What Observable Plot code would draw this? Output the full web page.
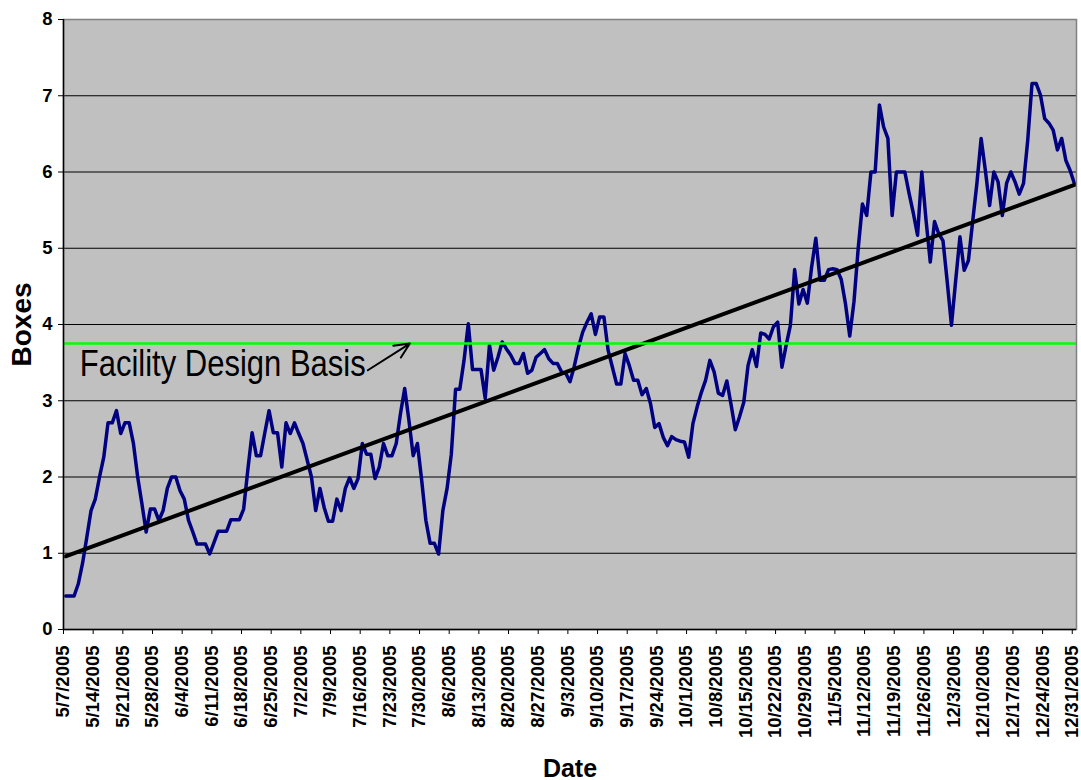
<!DOCTYPE html>
<html>
<head>
<meta charset="utf-8">
<script src="https://cdn.jsdelivr.net/npm/d3@7"></script>
<script src="https://cdn.jsdelivr.net/npm/@observablehq/plot@0.6"></script>
<style>
  html, body { margin: 0; padding: 0; background: #fff; }
  #chart svg { display: block; }
</style>
</head>
<body>
<div id="chart"></div>
<script>
// ---------- data ----------
const seriesStart = "5/7/2005";   // first daily value
const axisEnd = "1/1/2006";       // end of the date axis
// daily "Boxes" values, 5/7/2005 .. 12/31/2005
const boxes = [
  0.44, 0.44, 0.44, 0.6, 0.87, 1.21, 1.56, 1.71, 2.0, 2.26,
  2.71, 2.71, 2.87, 2.57, 2.71, 2.71, 2.44, 2.0, 1.65, 1.28,
  1.58, 1.58, 1.43, 1.56, 1.85, 2.0, 2.0, 1.82, 1.71, 1.43,
  1.28, 1.12, 1.12, 1.12, 0.99, 1.14, 1.29, 1.29, 1.29, 1.44,
  1.44, 1.44, 1.58, 2.1, 2.58, 2.28, 2.28, 2.58, 2.87, 2.58,
  2.58, 2.13, 2.71, 2.57, 2.71, 2.57, 2.44, 2.22, 2.0, 1.56,
  1.85, 1.6, 1.42, 1.42, 1.71, 1.56, 1.85, 1.99, 1.85, 1.98,
  2.44, 2.3, 2.3, 1.98, 2.13, 2.44, 2.28, 2.28, 2.44, 2.83,
  3.16, 2.74, 2.28, 2.44, 1.96, 1.43, 1.13, 1.13, 0.99, 1.56,
  1.85, 2.3, 3.15, 3.15, 3.53, 4.01, 3.41, 3.41, 3.41, 3.03,
  3.73, 3.4, 3.57, 3.77, 3.68, 3.6, 3.49, 3.49, 3.62, 3.36,
  3.4, 3.57, 3.62, 3.67, 3.55, 3.49, 3.49, 3.38, 3.36, 3.25,
  3.45, 3.7, 3.9, 4.03, 4.14, 3.87, 4.1, 4.1, 3.66, 3.44,
  3.22, 3.22, 3.62, 3.46, 3.27, 3.27, 3.08, 3.16, 2.96, 2.65,
  2.7, 2.52, 2.41, 2.53, 2.49, 2.47, 2.46, 2.26, 2.7, 2.92,
  3.11, 3.27, 3.53, 3.38, 3.1, 3.07, 3.26, 2.95, 2.62, 2.79,
  2.98, 3.46, 3.67, 3.45, 3.89, 3.87, 3.81, 3.97, 4.03, 3.44,
  3.73, 3.99, 4.72, 4.27, 4.46, 4.28, 4.75, 5.13, 4.58, 4.58,
  4.72, 4.73, 4.72, 4.59, 4.27, 3.85, 4.3, 5.0, 5.58, 5.43,
  6.0, 6.0, 6.88, 6.59, 6.44, 5.43, 6.0, 6.0, 6.0, 5.72,
  5.46, 5.17, 6.0, 5.37, 4.82, 5.35, 5.19, 5.1, 4.56, 3.99,
  4.58, 5.15, 4.71, 4.84, 5.35, 5.85, 6.44, 6.02, 5.56, 6.0,
  5.87, 5.43, 5.85, 6.0, 5.87, 5.71, 5.85, 6.42, 7.16, 7.16,
  7.01, 6.7, 6.64, 6.55, 6.29, 6.44, 6.15, 6.02, 5.85
];
// linear trend line endpoints
const trendDates = ["5/7/2005", "12/31/2005"];
const trendValues = [0.96, 5.83];
// facility design basis level
const designBasis = [3.75];
const annotationLabel = "Facility Design Basis";
const annotationAt = { date: "5/10/2005 20", value: 3.33 };
const arrowFrom = { date: "7/17/2005 19", value: 3.40 };
const arrowTo = { date: "7/27/2005 17", value: 3.75 };
// axes
const xTickLabels = [
  "5/7/2005", "5/14/2005", "5/21/2005", "5/28/2005", "6/4/2005", "6/11/2005",
  "6/18/2005", "6/25/2005", "7/2/2005", "7/9/2005", "7/16/2005", "7/23/2005",
  "7/30/2005", "8/6/2005", "8/13/2005", "8/20/2005", "8/27/2005", "9/3/2005",
  "9/10/2005", "9/17/2005", "9/24/2005", "10/1/2005", "10/8/2005", "10/15/2005",
  "10/22/2005", "10/29/2005", "11/5/2005", "11/12/2005", "11/19/2005", "11/26/2005",
  "12/3/2005", "12/10/2005", "12/17/2005", "12/24/2005", "12/31/2005"
];
const yTicks = [0, 1, 2, 3, 4, 5, 6, 7, 8];
const gridValues = [1, 2, 3, 4, 5, 6, 7];
const xTitle = "Date";
const yTitle = "Boxes";

// ---------- build ----------
const parseDay = d3.utcParse("%m/%d/%Y");
const parseDayHour = d3.utcParse("%m/%d/%Y %H");
const noon = d => d3.utcHour.offset(d, 12);

const start = parseDay(seriesStart);
const series = boxes.map((v, i) => ({ date: noon(d3.utcDay.offset(start, i)), value: v }));
const trend = trendDates.map((d, i) => ({ date: noon(parseDay(d)), value: trendValues[i] }));
const tickDates = xTickLabels.map(parseDay);
const tickLabelMap = new Map(tickDates.map((d, i) => [+d, xTickLabels[i]]));

const font = "'Liberation Sans', Arial, Helvetica, sans-serif";

const svg = Plot.plot({
  width: 1081,
  height: 780,
  marginLeft: 63,
  marginRight: 5,
  marginTop: 19,
  marginBottom: 151,
  style: { background: "#ffffff", fontFamily: font, color: "#000", overflow: "visible" },
  x: { type: "utc", domain: [start, parseDay(axisEnd)] },
  y: { domain: [0, 8] },
  marks: [
    Plot.frame({ fill: "#c0c0c0" }),
    Plot.gridY(gridValues, { stroke: "#000", strokeOpacity: 1, strokeWidth: 1 }),
    Plot.line(series, {
      x: "date", y: "value", stroke: "#000080", strokeWidth: 3.5,
      strokeLinejoin: "round", strokeLinecap: "round"
    }),
    Plot.line(trend, { x: "date", y: "value", stroke: "#000", strokeWidth: 4 }),
    Plot.ruleY(designBasis, { stroke: "#00ff00", strokeWidth: 2.5 }),
    Plot.frame({ stroke: "#808080", strokeWidth: 1.5 }),
    Plot.ruleX([start], { stroke: "#000", strokeWidth: 1.5 }),
    Plot.ruleY([0], { stroke: "#000", strokeWidth: 1.5 }),
    Plot.axisX({
      ticks: tickDates,
      tickFormat: d => tickLabelMap.get(+d),
      tickRotate: -90,
      tickSize: 5,
      tickPadding: 11,
      fontSize: 18.5,
      fontWeight: "bold",
      label: null
    }),
    Plot.axisY({
      ticks: yTicks,
      tickSize: 5,
      tickPadding: 6,
      fontSize: 18.5,
      fontWeight: "bold",
      label: null
    }),
    Plot.text([yTitle], {
      text: d => d, frameAnchor: "left", dx: -41, rotate: -90,
      fontSize: 28, fontWeight: "bold", fill: "#000", textAnchor: "middle", lineAnchor: "middle"
    }),
    Plot.text([xTitle], {
      text: d => d, frameAnchor: "bottom", dy: 139,
      fontSize: 25, fontWeight: "bold", fill: "#000", textAnchor: "middle", lineAnchor: "middle"
    }),
    Plot.text([annotationAt], {
      x: d => parseDayHour(d.date), y: "value", text: () => annotationLabel,
      textAnchor: "start", lineAnchor: "bottom", fontSize: 37, fill: "#000"
    }),
    Plot.arrow([{ from: arrowFrom, to: arrowTo }], {
      x1: d => parseDayHour(d.from.date), y1: d => d.from.value,
      x2: d => parseDayHour(d.to.date), y2: d => d.to.value,
      stroke: "#000", strokeWidth: 2, headLength: 14, headAngle: 50
    })
  ]
});

// condensed annotation text, as in the original
svg.querySelectorAll("text").forEach(t => {
  if (t.textContent === annotationLabel) {
    t.setAttribute("textLength", 286);
    t.setAttribute("lengthAdjust", "spacingAndGlyphs");
  }
});

document.getElementById("chart").appendChild(svg);
</script>
</body>
</html>
